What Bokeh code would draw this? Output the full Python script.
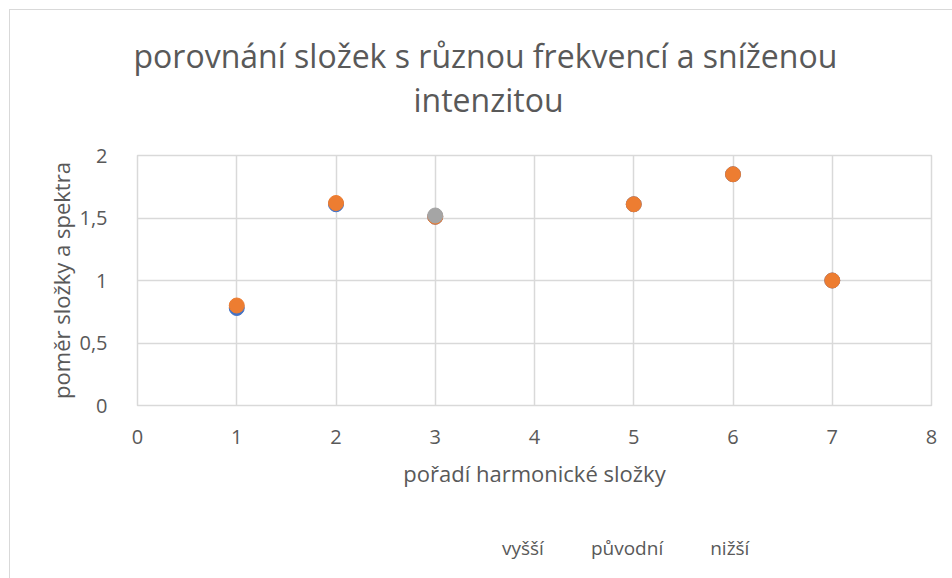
from bokeh.plotting import figure
from bokeh.layouts import column
from bokeh.models import Title, Legend, LegendItem, FixedTicker, CustomJSTickFormatter, Range1d
from bokeh.embed import file_html
from bokeh.resources import INLINE

title_lines = ["porovnání složek s různou frekvencí a sníženou", "intenzitou"]
x_label = "pořadí harmonické složky"
y_label = "poměr složky a spektra"

series_names = ["vyšší", "původní", "nižší"]
x_vyssi = [1, 2, 3, 5, 6, 7]
y_vyssi = [0.78, 1.61, 1.51, 1.61, 1.85, 1.0]
x_puvodni = [1, 2, 3, 5, 6, 7]
y_puvodni = [0.80, 1.62, 1.51, 1.61, 1.85, 1.0]
x_nizsi = [3]
y_nizsi = [1.52]
colors = ["#4472C4", "#ED7D31", "#A5A5A5"]

x_ticks = [0, 1, 2, 3, 4, 5, 6, 7, 8]
y_ticks = [0, 0.5, 1, 1.5, 2]

FONT = "Open Sans"
TXT = "#595959"
GRID = "#D9D9D9"

# ---- main chart ----
p = figure(width=942, height=495, output_backend="svg", toolbar_location=None,
           x_range=Range1d(0, 8), y_range=Range1d(0, 2),
           frame_width=794, frame_height=250,
           min_border_left=127, min_border_right=21, min_border_top=145, min_border_bottom=100)
p.outline_line_color = GRID
p.outline_line_width = 1.5
p.background_fill_color = "white"
p.border_fill_color = "white"

p.add_layout(Title(text=title_lines[1], align="left", text_font=FONT, text_font_size="32px",
                   text_color=TXT, text_font_style="normal", standoff=70, offset=276), "above")
p.add_layout(Title(text=title_lines[0], align="left", text_font=FONT, text_font_size="32px",
                   text_color=TXT, text_font_style="normal", standoff=-72, offset=-4), "above")

for xs, ys, c in [(x_vyssi, y_vyssi, colors[0]), (x_puvodni, y_puvodni, colors[1]), (x_nizsi, y_nizsi, colors[2])]:
    p.scatter(xs, ys, size=15, fill_color=c, line_color=c, marker="circle")

p.xaxis.ticker = FixedTicker(ticks=x_ticks)
p.yaxis.ticker = FixedTicker(ticks=y_ticks)
p.yaxis.formatter = CustomJSTickFormatter(code="return tick.toString().replace('.', ',');")
for ax in (p.xaxis, p.yaxis):
    ax.axis_line_color = None
    ax.major_tick_line_color = None
    ax.minor_tick_line_color = None
    ax.major_label_text_font = FONT
    ax.major_label_text_font_size = "20px"
    ax.major_label_text_color = TXT
    ax.axis_label_text_font = FONT
    ax.axis_label_text_font_size = "22px"
    ax.axis_label_text_color = TXT
    ax.axis_label_text_font_style = "normal"
p.xaxis.axis_label = x_label
p.yaxis.axis_label = y_label
p.xaxis.major_label_standoff = 18
p.yaxis.major_label_standoff = 24
p.xaxis.axis_label_standoff = 11
p.yaxis.axis_label_standoff = 0

p.xgrid.grid_line_color = GRID
p.ygrid.grid_line_color = GRID
p.xgrid.grid_line_width = 1.5
p.ygrid.grid_line_width = 1.5

# ---- legend strip ----
lg = figure(width=942, height=73, output_backend="svg", toolbar_location=None,
            x_range=Range1d(0, 1), y_range=Range1d(0, 1),
            x_axis_location=None, y_axis_location=None,
            min_border_left=0, min_border_right=0, min_border_top=0, min_border_bottom=0)
lg.outline_line_color = None
lg.background_fill_color = "white"
lg.border_fill_color = "white"
lg.grid.visible = False

legend_renderers = [lg.scatter([], [], size=15, fill_color=c, line_color=c, marker="circle") for c in colors]
legend = Legend(items=[LegendItem(label=n, renderers=[r]) for n, r in zip(series_names, legend_renderers)],
                orientation="horizontal", location=(346, 17), border_line_color=None,
                label_text_font=FONT, label_text_font_size="19px", label_text_color=TXT,
                glyph_width=14, glyph_height=14, label_standoff=5, spacing=28, margin=0,
                padding=3, background_fill_alpha=0)
lg.add_layout(legend, "center")

layout = column(p, lg, spacing=0)
layout.styles = {"border-left": "1px solid #D9D9D9", "border-top": "1px solid #D9D9D9",
                 "margin-left": "9px", "margin-top": "9px"}

open("out.html", "w").write(file_html(layout, INLINE))
